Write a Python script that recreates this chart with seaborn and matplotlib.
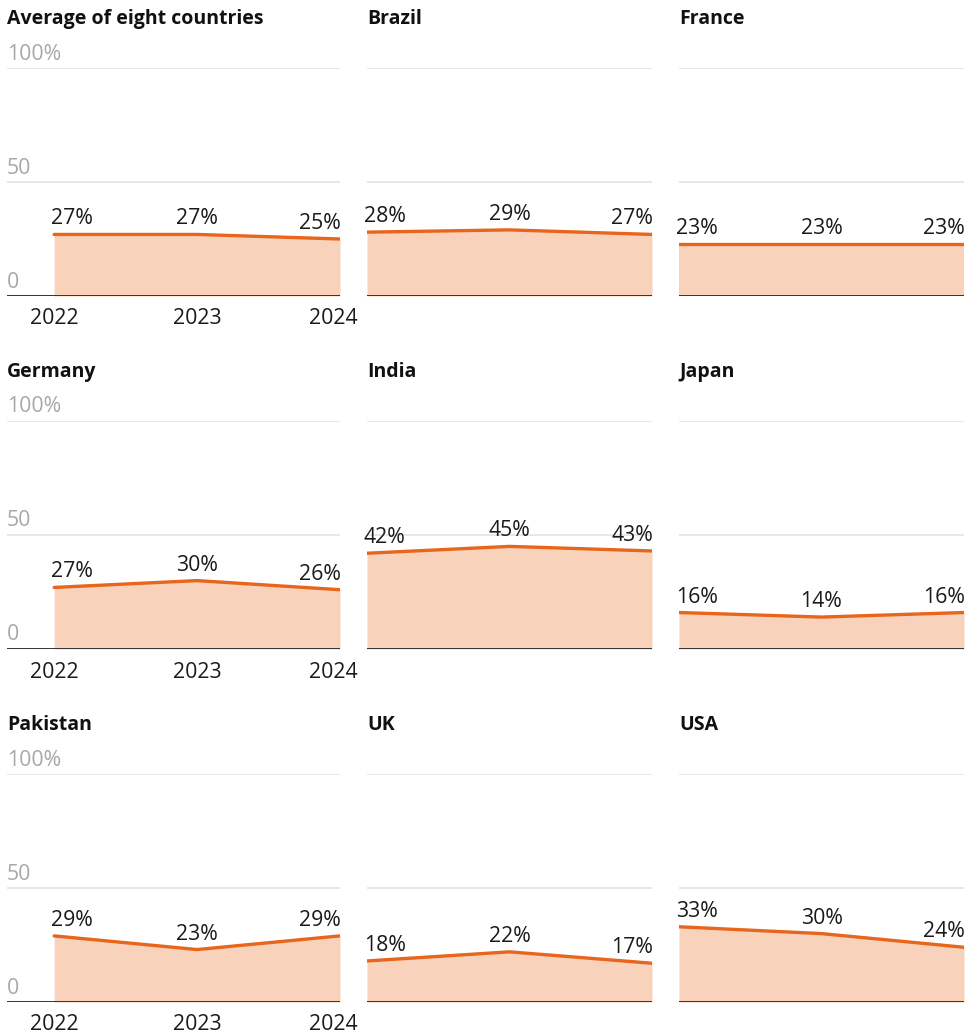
import matplotlib
matplotlib.use("Agg")
import matplotlib.pyplot as plt
import matplotlib.transforms as mtrans
import numpy as np
import pandas as pd
import seaborn as sns

# Data: share per country and year (%)
years = [2022, 2023, 2024]
panels = ["Average of eight countries", "Brazil", "France",
          "Germany", "India", "Japan",
          "Pakistan", "UK", "USA"]
average = [27, 27, 25]
brazil = [28, 29, 27]
france = [23, 23, 23]
germany = [27, 30, 26]
india = [42, 45, 43]
japan = [16, 14, 16]
pakistan = [29, 23, 29]
uk = [18, 22, 17]
usa = [33, 30, 24]
series = [average, brazil, france, germany, india, japan, pakistan, uk, usa]
y_ticks = [0, 50, 100]
y_tick_labels = ["0", "50", "100%"]

sns.set_theme(style="white")
plt.rcParams["font.family"] = ["Open Sans", "DejaVu Sans"]

LINE = "#e8651c"
FILL = "#f8d2bb"
GRID = "#e3e3e3"
BASE = "#333333"
GREY = "#a8a8a8"
FS = 15.3

W, H = 973, 1036
fig = plt.figure(figsize=(W / 100, H / 100), dpi=100)

col_left = [7, 367, 679]
col_right = [340, 652, 964]
row_top = [68, 421, 774]
row_bottom = [296, 649, 1002]

def px_offset(ax, dx, dy):
    return mtrans.offset_copy(ax.transData, fig=fig, x=dx, y=dy, units="dots")

for i, (name, vals) in enumerate(zip(panels, series)):
    r, c = divmod(i, 3)
    left = col_left[c] / W
    width = (col_right[c] - col_left[c]) / W
    bottom = 1 - row_bottom[r] / H
    height = (row_bottom[r] - row_top[r]) / H
    ax = fig.add_axes([left, bottom, width, height])

    df = pd.DataFrame({"year": years, "value": vals})
    ax.fill_between(df["year"], 0, df["value"], color=FILL, lw=0, zorder=1)
    sns.lineplot(data=df, x="year", y="value", ax=ax, color=LINE, lw=2.4,
                 zorder=3, legend=False)

    if c == 0:
        ax.set_xlim(2021.67, 2024)
    else:
        ax.set_xlim(2022, 2024)
    ax.set_ylim(0, 100)

    # gridlines and baseline
    for yv in y_ticks[1:]:
        ax.axhline(yv, color=GRID, lw=1.2, zorder=0)
    ax.axhline(0, color=BASE, lw=1.4, zorder=4)

    ax.set_xticks([])
    ax.set_yticks([])
    ax.set_xlabel("")
    ax.set_ylabel("")
    for s in ax.spines.values():
        s.set_visible(False)

    # panel title
    ax.text(0, 1, name, transform=mtrans.offset_copy(ax.transAxes, fig=fig, x=0, y=49, units="dots"),
            ha="left", va="center", fontsize=14, fontweight="bold", color="#111111", clip_on=False)

    # value labels
    for j, (x, v) in enumerate(zip(years, vals)):
        ha = "left" if j == 0 else ("right" if j == len(years) - 1 else "center")
        dx = -3 if j == 0 else (1 if j == len(years) - 1 else 0)
        ax.text(x, v, f"{v}%", transform=px_offset(ax, dx, 5), ha=ha, va="bottom",
                fontsize=FS, color="#1a1a1a", clip_on=False, zorder=5)

    if c == 0:
        for yv, lab in zip(y_ticks, y_tick_labels):
            ax.text(0, yv, lab,
                    transform=mtrans.offset_copy(ax.get_yaxis_transform(), fig=fig, x=0, y=14, units="dots"),
                    ha="left", va="center", fontsize=FS, color=GREY, clip_on=False)
        for j, x in enumerate(years):
            dx = -7 if j == len(years) - 1 else 0
            ax.text(x, 0, str(x), transform=px_offset(ax, dx, -23), ha="center", va="center",
                    fontsize=FS, color="#1a1a1a", clip_on=False)

fig.savefig("out.png", dpi=100)
